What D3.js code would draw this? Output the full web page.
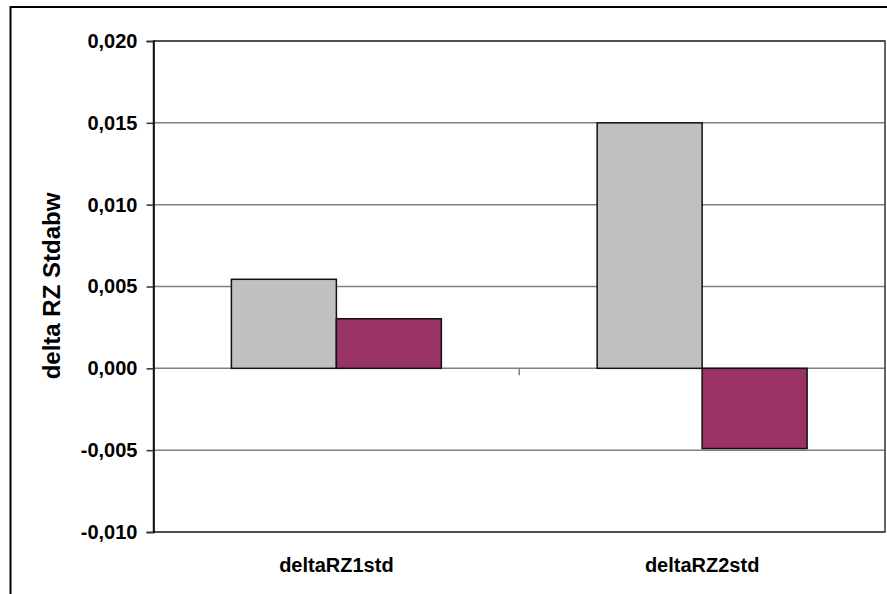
<!DOCTYPE html>
<html><head><meta charset="utf-8">
<script src="https://cdn.jsdelivr.net/npm/d3@7"></script>
<style>body{margin:0;background:#fff;} svg{display:block;font-family:"Liberation Sans",Arial,sans-serif;}</style>
</head><body>
<script>
const categories = ["deltaRZ1std", "deltaRZ2std"];
const seriesNames = ["A", "B"];
const seriesA = [0.00544, 0.0150];
const seriesB = [0.00303, -0.0049];
const yTicks = [-0.010, -0.005, 0.000, 0.005, 0.010, 0.015, 0.020];
const colors = ["#C0C0C0", "#993366"];
const yTitle = "delta RZ Stdabw";

const W = 887, H = 594;
const m = {left: 153.5, top: 41, right: 885, bottom: 532};
const svg = d3.select("body").append("svg").attr("width", W).attr("height", H);

// outer chart border (only left/top visible)
svg.append("rect").attr("x", 10.5).attr("y", 7).attr("width", 1000).attr("height", 1000)
  .attr("fill", "none").attr("stroke", "#000").attr("stroke-width", 2);

const y = d3.scaleLinear().domain([-0.010, 0.020]).range([m.bottom, m.top]);
const x0 = d3.scaleBand().domain(categories).range([m.left, m.right]).paddingInner(0.426).paddingOuter(0.213);
const x1 = d3.scaleBand().domain(seriesNames).range([0, x0.bandwidth()]);

// gridlines
svg.append("g").selectAll("line").data(yTicks).join("line")
  .attr("x1", m.left).attr("x2", m.right)
  .attr("y1", d => y(d)).attr("y2", d => y(d))
  .attr("stroke", "#808080").attr("stroke-width", 1.5);

// plot border
svg.append("rect").attr("x", m.left).attr("y", m.top).attr("width", m.right - m.left).attr("height", m.bottom - m.top)
  .attr("fill", "none").attr("stroke", "#333").attr("stroke-width", 1.5);

// y axis
const yAxis = d3.axisLeft(y).tickValues(yTicks).tickSize(7).tickPadding(9)
  .tickFormat(d => d3.format(".3f")(d).replace(".", ",").replace("−", "-"));
const gy = svg.append("g").attr("transform", `translate(${m.left},0)`).call(yAxis);
gy.select(".domain").attr("stroke", "#000").attr("stroke-width", 1.5);
gy.selectAll(".tick line").attr("stroke", "#333").attr("stroke-width", 1.5);
gy.selectAll(".tick text").attr("font-size", 20).attr("font-weight", "bold").attr("fill", "#000")
  .attr("font-family", "Liberation Sans, Arial, sans-serif");

// category boundary tick on zero line
const boundaries = categories.slice(1).map(c => x0(c) - x0.step() * x0.paddingInner() / 2);
svg.append("g").selectAll("line").data(boundaries).join("line")
  .attr("x1", d => d).attr("x2", d => d).attr("y1", y(0)).attr("y2", y(0) + 7)
  .attr("stroke", "#808080").attr("stroke-width", 1.5);

// bars
const data = categories.map((c, i) => ({cat: c, vals: [seriesA[i], seriesB[i]]}));
const groups = svg.append("g").selectAll("g").data(data).join("g")
  .attr("transform", d => `translate(${x0(d.cat)},0)`);
groups.selectAll("rect").data(d => d.vals.map((v, j) => ({v, s: seriesNames[j], j}))).join("rect")
  .attr("x", d => x1(d.s)).attr("width", x1.bandwidth())
  .attr("y", d => y(Math.max(0, d.v))).attr("height", d => Math.abs(y(d.v) - y(0)))
  .attr("fill", d => colors[d.j]).attr("stroke", "#111").attr("stroke-width", 1.5);

// x labels
svg.append("g").selectAll("text").data(categories).join("text")
  .attr("x", d => x0(d) + x0.bandwidth() / 2).attr("y", 572)
  .attr("text-anchor", "middle").attr("font-size", 20).attr("font-weight", "bold").text(d => d);

// y title
svg.append("text").attr("transform", `translate(51,286) rotate(-90)`)
  .attr("text-anchor", "middle").attr("dominant-baseline", "central")
  .attr("font-size", 24).attr("font-weight", "bold").text(yTitle);
</script>
</body></html>
